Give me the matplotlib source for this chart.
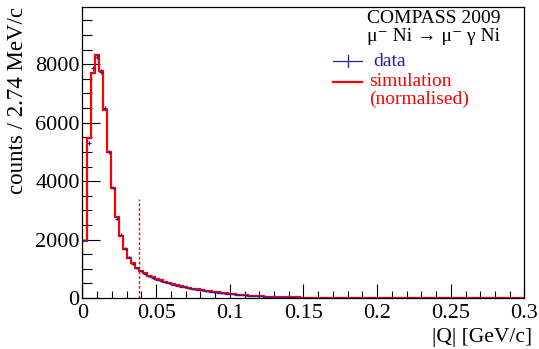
import numpy as np
import matplotlib.pyplot as plt
from matplotlib.ticker import MultipleLocator

plt.rcParams["font.family"] = ["Liberation Serif", "DejaVu Serif"]

# histogram binning: 2.74 MeV/c bins starting at 0
bin_width = 0.00274
n_bins = 110

# data counts per bin
data_counts = [1990, 5300, 7860, 8260, 7740, 6500, 4990, 3780, 2720, 2170,
               1690, 1400, 1180, 1020, 915, 820, 745, 680, 628, 580,
               540, 500, 462, 428, 395, 365, 336, 308, 283, 259,
               238, 218, 200, 182, 166, 151, 137, 124, 112, 100,
               90, 80, 71, 63, 55, 49, 43, 38, 33, 29,
               26, 22, 20, 17, 15, 13, 11, 10, 9, 8,
               7, 6, 5, 5, 4, 4, 3, 3, 3, 2,
               2, 2, 2, 1, 1, 1, 1, 1, 1, 1,
               0, 0, 0, 0, 0, 0, 0, 0, 0, 0,
               0, 0, 0, 0, 0, 0, 0, 0, 0, 0,
               0, 0, 0, 0, 0, 0, 0, 0, 0, 0]

# normalised simulation counts per bin
sim_counts = [1965, 5480, 7690, 8300, 7780, 6450, 4990, 3760, 2770, 2110,
              1680, 1370, 1195, 1035, 930, 840, 770, 705, 650, 602,
              560, 520, 482, 447, 413, 382, 352, 324, 298, 274,
              252, 231, 212, 194, 177, 161, 146, 132, 119, 107,
              96, 86, 76, 67, 59, 52, 46, 41, 36, 32,
              28, 24, 21, 19, 16, 14, 12, 11, 10, 9,
              8, 7, 6, 5, 5, 4, 4, 3, 3, 3,
              2, 2, 2, 2, 1, 1, 1, 1, 1, 1,
              1, 1, 1, 0, 0, 0, 0, 0, 0, 0,
              0, 0, 0, 0, 0, 0, 0, 0, 0, 0,
              0, 0, 0, 0, 0, 0, 0, 0, 0, 0]

q_cut = 0.0384
cut_height = 3400

blue = "#2222aa"

edges = np.arange(n_bins + 1) * bin_width
centers = 0.5 * (edges[:-1] + edges[1:])
data = np.array(data_counts, dtype=float)
sim = np.array(sim_counts, dtype=float)

fig = plt.figure(figsize=(5.39, 3.49), dpi=100)
ax = fig.add_axes([0.153, 0.146, 0.820, 0.834])

# simulation as step histogram
ax.stairs(sim, edges, color="red", linewidth=1.6, zorder=2)

# data with error crosses
ax.errorbar(centers, data, xerr=bin_width / 2, yerr=np.sqrt(data),
            fmt="none", ecolor=blue, elinewidth=0.9, zorder=3)

# cut line
ax.plot([q_cut, q_cut], [0, cut_height], color="red", linestyle=(0, (2, 1.5)),
        linewidth=1.0, zorder=4)

ax.set_xlim(0, 0.3)
ax.set_ylim(0, 9960)

ax.xaxis.set_minor_locator(MultipleLocator(0.01))
ax.yaxis.set_major_locator(MultipleLocator(2000))
ax.yaxis.set_minor_locator(MultipleLocator(500))
ax.set_xticks([0, 0.05, 0.1, 0.15, 0.2, 0.25, 0.3])
ax.set_xticklabels(["0", "0.05", "0.1", "0.15", "0.2", "0.25", "0.3"])

ax.tick_params(which="both", direction="in", top=False, right=False,
               labelsize=16, width=0.8)
ax.tick_params(axis="x", which="major", length=10, pad=4)
ax.tick_params(axis="x", which="minor", length=5)
ax.tick_params(axis="y", which="major", length=13, pad=2)
ax.tick_params(axis="y", which="minor", length=7)
for s in ax.spines.values():
    s.set_linewidth(0.9)

fig.text(18 / 539, 1 - 7 / 349, "counts / 2.74 MeV/c", rotation=90,
         ha="center", va="top", fontsize=16.5)
fig.text(532 / 539, 1 - 347 / 349, "|Q| [GeV/c]", ha="right", va="bottom",
         fontsize=15.5)

# legend block
ax.text(0.644, 0.962, "COMPASS 2009", transform=ax.transAxes,
        ha="left", va="center", fontsize=14)
ax.text(0.644, 0.897, "μ⁻ Ni → μ⁻ γ Ni", transform=ax.transAxes,
        ha="left", va="center", fontsize=14)

ax.plot([0.567, 0.633], [0.814, 0.814], color=blue, linewidth=0.9,
        transform=ax.transAxes, clip_on=False)
ax.plot([0.600, 0.600], [0.793, 0.835], color=blue, linewidth=0.9,
        transform=ax.transAxes, clip_on=False)
ax.text(0.658, 0.814, "data", transform=ax.transAxes, color=blue,
        ha="left", va="center", fontsize=14)

ax.plot([0.567, 0.633], [0.743, 0.743], color="red", linewidth=1.6,
        transform=ax.transAxes, clip_on=False)
ax.text(0.649, 0.743, "simulation", transform=ax.transAxes, color="red",
        ha="left", va="center", fontsize=14)
ax.text(0.649, 0.682, "(normalised)", transform=ax.transAxes, color="red",
        ha="left", va="center", fontsize=14)

fig.savefig("out.png", dpi=100)
